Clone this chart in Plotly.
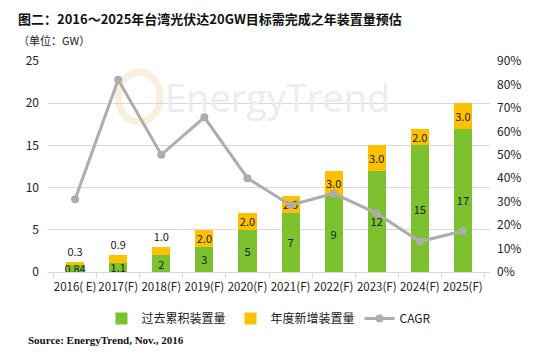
import plotly.graph_objects as go

categories = ["2016( E)", "2017(F)", "2018(F)", "2019(F)", "2020(F)",
              "2021(F)", "2022(F)", "2023(F)", "2024(F)", "2025(F)"]
cumulative = [0.84, 1.1, 2, 3, 5, 7, 9, 12, 15, 17]
cumulative_labels = ["0.84", "1.1", "2", "3", "5", "7", "9", "12", "15", "17"]
annual_new = [0.3, 0.9, 1.0, 2.0, 2.0, 2.0, 3.0, 3.0, 2.0, 3.0]
annual_labels = ["0.3", "0.9", "1.0", "2.0", "2.0", "2.0", "3.0", "3.0", "2.0", "3.0"]
cagr = [0.31, 0.82, 0.50, 0.66, 0.40, 0.285, 0.335, 0.25, 0.13, 0.175]

FONT = "Noto Sans CJK SC"
GREEN = "#7CC22E"
YELLOW = "#FFC000"
GRAY = "#ADADAD"

fig = go.Figure()
fig.add_trace(go.Bar(
    x=categories, y=cumulative, name="过去累积装置量",
    marker=dict(color=GREEN, line=dict(width=0)),
    text=cumulative_labels, textposition="inside", insidetextanchor="middle",
    constraintext="none", textangle=0,
    textfont=dict(family=FONT, size=11, color="#1a1a1a"),
    width=0.42,
))
pos = ["outside" if v <= 1.0 else "inside" for v in annual_new]
fig.add_trace(go.Bar(
    x=categories, y=annual_new, name="年度新增装置量",
    marker=dict(color=YELLOW, line=dict(width=0)),
    text=annual_labels, textposition=pos, insidetextanchor="middle",
    constraintext="none", textangle=0, cliponaxis=False,
    textfont=dict(family=FONT, size=11, color="#1a1a1a"),
    width=0.42,
))
fig.add_trace(go.Scatter(
    x=categories, y=cagr, name="CAGR", yaxis="y2", mode="lines+markers",
    line=dict(color=GRAY, width=3), marker=dict(color=GRAY, size=8),
))

fig.update_layout(
    width=551, height=354,
    margin=dict(l=48, r=61, t=61, b=82),
    paper_bgcolor="white", plot_bgcolor="white",
    barmode="stack", bargap=0.58,
    font=dict(family=FONT, size=12, color="#222222"),
    xaxis=dict(
        type="category", showline=True, linecolor="#D9D9D9", linewidth=1,
        ticks="outside", tickson="boundaries", ticklen=5, tickcolor="#D9D9D9",
        tickangle=0, ticklabelstandoff=4,
        tickfont=dict(family=FONT, size=11.5, color="#222222"),
    ),
    yaxis=dict(
        range=[0, 25], dtick=5, showgrid=True, gridcolor="#D9D9D9", gridwidth=1,
        zeroline=False, showline=False,
        tickfont=dict(family=FONT, size=12, color="#222222"), ticklabelstandoff=8,
    ),
    yaxis2=dict(
        range=[0, 0.9], dtick=0.1, tickformat=".0%", overlaying="y", side="right",
        showgrid=False, zeroline=False, showline=False,
        tickfont=dict(family=FONT, size=12, color="#222222"), ticklabelstandoff=6,
    ),
    legend=dict(
        orientation="h", x=0.5, xanchor="center", y=-0.22, yanchor="middle",
        font=dict(family=FONT, size=12, color="#222222"),
        traceorder="normal", itemwidth=30, tracegroupgap=0,
    ),
)

# watermark
fig.add_shape(type="circle", xref="paper", yref="paper",
              x0=(118 - 48) / 442, x1=(160 - 48) / 442,
              y0=(272 - 122) / 211, y1=(272 - 72) / 211,
              line=dict(color="#FAEEDD", width=7), fillcolor="rgba(0,0,0,0)",
              layer="below")
fig.add_annotation(text="EnergyTrend", xref="paper", yref="paper",
                   x=(163 - 48) / 442, y=(272 - 97) / 211, xanchor="left", yanchor="middle",
                   showarrow=False, font=dict(family="Open Sans", size=38, color="#EDEDED"))

fig.add_annotation(text="<b>图二：2016～2025年台湾光伏达20GW目标需完成之年装置量预估</b>",
                   xref="paper", yref="paper", x=(16 - 48) / 442, y=(272 - 18) / 211,
                   xanchor="left", yanchor="middle", showarrow=False,
                   font=dict(family=FONT, size=13, color="#111111"))
fig.add_annotation(text="（单位：GW）", xref="paper", yref="paper",
                   x=(16 - 48) / 442, y=(272 - 40) / 211,
                   xanchor="left", yanchor="middle", showarrow=False,
                   font=dict(family=FONT, size=11, color="#222222"))
fig.add_annotation(text="<b>Source: EnergyTrend, Nov., 2016</b>", xref="paper", yref="paper",
                   x=(26 - 48) / 442, y=(272 - 340) / 211,
                   xanchor="left", yanchor="middle", showarrow=False,
                   font=dict(family="Liberation Serif", size=11, color="#111111"))

fig.write_html("out.html")
